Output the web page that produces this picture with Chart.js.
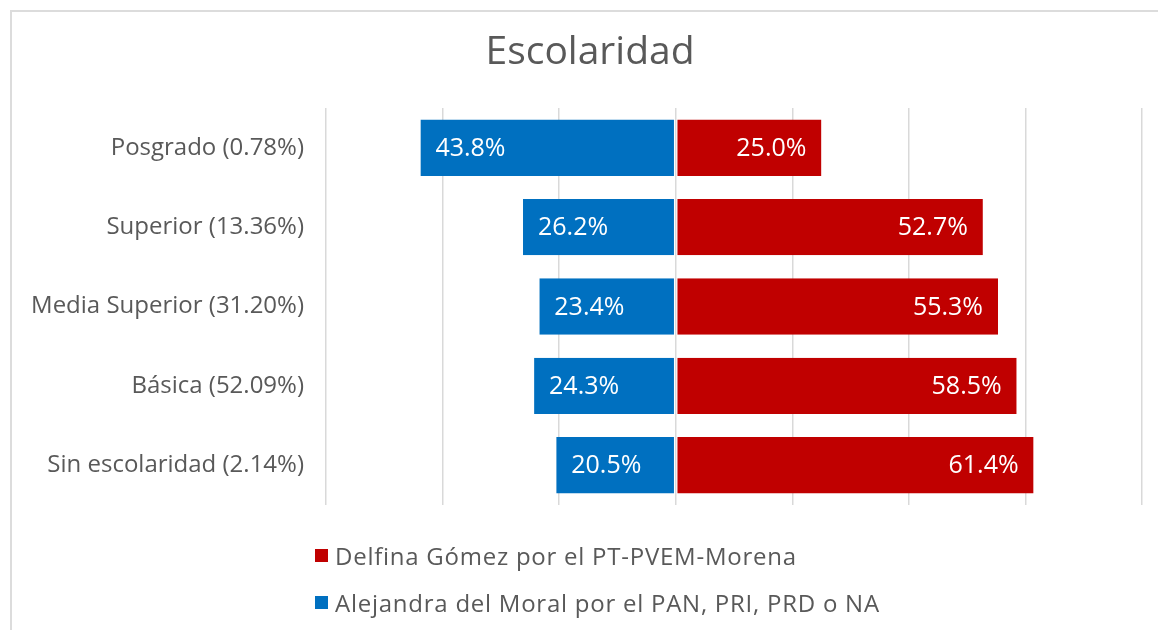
<!DOCTYPE html>
<html lang="es">
<head>
<meta charset="utf-8">
<title>Escolaridad</title>
<script src="https://cdn.jsdelivr.net/npm/chart.js@4.4.1/dist/chart.umd.min.js"></script>
<style>
    body { margin: 0; background: #fff; }
    #wrap { position: relative; width: 1158px; height: 630px; overflow: hidden; }
    #frame { position: absolute; left: 10px; top: 10px; width: 1200px; height: 700px;
             border: 2px solid #dcdcdc; box-sizing: border-box; }
    canvas { position: absolute; left: 0; top: 0; }
    #legend { position: absolute; left: 315px; top: 532px; font-family: 'Open Sans', sans-serif;
              font-size: 24px; letter-spacing: 0.75px; color: #595959; }
    .legend-row { display: flex; align-items: center; height: 47px; }
    .legend-box { width: 13px; height: 13px; margin-right: 7px; }
</style>
</head>
<body>
<div id="wrap">
    <div id="frame"></div>
    <canvas id="chart" width="1158" height="630"></canvas>
    <div id="legend"></div>
</div>
<script>
// Escolaridad - diverging horizontal bars

const categories = ['Posgrado (0.78%)', 'Superior (13.36%)', 'Media Superior (31.20%)', 'Básica (52.09%)', 'Sin escolaridad (2.14%)'];
const delfinaValues = [25.0, 52.7, 55.3, 58.5, 61.4];
const alejandraValues = [43.8, 26.2, 23.4, 24.3, 20.5];
const seriesNames = ['Delfina Gómez por el PT-PVEM-Morena', 'Alejandra del Moral por el PAN, PRI, PRD o NA'];
const titleText = 'Escolaridad';
const axisMin = -60;
const axisMax = 80;
const axisStep = 20;

const RED = '#C00000';
const BLUE = '#0070C0';
const TEXT = '#595959';
const FONT = "'Open Sans', sans-serif";

// Title sits a little right of the canvas centre, as in the source
const chartTitle = {
    id: 'chartTitle',
    afterDraw(chart) {
        const ctx = chart.ctx;
        ctx.save();
        ctx.font = '39px ' + FONT;
        ctx.fillStyle = TEXT;
        ctx.textAlign = 'center';
        ctx.textBaseline = 'middle';
        ctx.fillText(titleText, 590, 53);
        ctx.restore();
    }
};

// Draw the value labels inside the bars
const barLabels = {
    id: 'barLabels',
    afterDatasetsDraw(chart) {
        const ctx = chart.ctx;
        ctx.save();
        ctx.font = '25px ' + FONT;
        ctx.fillStyle = '#fff';
        ctx.textBaseline = 'middle';
        chart.data.datasets.forEach((ds, i) => {
            const meta = chart.getDatasetMeta(i);
            meta.data.forEach((bar, j) => {
                const v = ds.data[j];
                const txt = Math.abs(v).toFixed(1) + '%';
                if (v < 0) {
                    ctx.textAlign = 'left';
                    ctx.fillText(txt, bar.x + 15, bar.y + 1);
                } else {
                    ctx.textAlign = 'right';
                    ctx.fillText(txt, bar.x - 15, bar.y + 1);
                }
            });
        });
        ctx.restore();
    }
};

function initChart() {
    const ctx = document.getElementById('chart').getContext('2d');
    const chart = new Chart(ctx, {
        type: 'bar',
        data: {
            labels: categories,
            datasets: [
                {
                    label: seriesNames[0],
                    data: delfinaValues,
                    backgroundColor: RED,
                    borderColor: '#fff',
                    borderWidth: { left: 1, right: 0, top: 0, bottom: 0 },
                    borderSkipped: false,
                    barPercentage: 0.71,
                    categoryPercentage: 1
                },
                {
                    label: seriesNames[1],
                    data: alejandraValues.map(v => -v),
                    backgroundColor: BLUE,
                    borderColor: '#fff',
                    borderWidth: { left: 0, right: 1, top: 0, bottom: 0 },
                    borderSkipped: false,
                    barPercentage: 0.71,
                    categoryPercentage: 1
                }
            ]
        },
        options: {
            indexAxis: 'y',
            responsive: false,
            animation: false,
            layout: { padding: { left: 0, right: 16, top: 108, bottom: 125 } },
            plugins: {
                legend: { display: false },
                title: { display: false },
                tooltip: {
                    callbacks: {
                        label: c => c.dataset.label + ': ' + Math.abs(c.raw).toFixed(1) + '%'
                    }
                }
            },
            scales: {
                x: {
                    stacked: true,
                    min: axisMin,
                    max: axisMax,
                    ticks: { display: false, stepSize: axisStep },
                    grid: { color: '#d9d9d9', lineWidth: 1.5, drawTicks: false },
                    border: { display: false }
                },
                y: {
                    stacked: true,
                    afterFit: scale => { scale.width = 326; },
                    ticks: { color: TEXT, font: { family: FONT, size: 24 }, padding: 22 },
                    grid: { display: false, drawTicks: false },
                    border: { display: false }
                }
            }
        },
        plugins: [barLabels, chartTitle]
    });

    // HTML legend, one series per row
    const legend = document.getElementById('legend');
    chart.data.datasets.forEach(ds => {
        const row = document.createElement('div');
        row.className = 'legend-row';
        row.innerHTML = `<span class="legend-box" style="background:${ds.backgroundColor}"></span><span>${ds.label}</span>`;
        legend.appendChild(row);
    });
}

window.addEventListener('DOMContentLoaded', initChart);
</script>
</body>
</html>
